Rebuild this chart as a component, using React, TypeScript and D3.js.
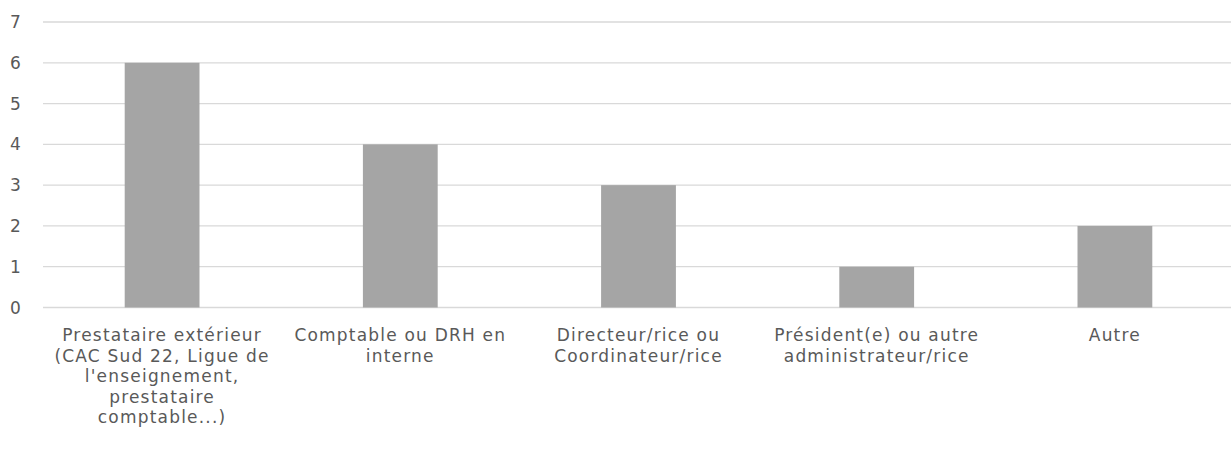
import React from "react";
import * as d3 from "d3";

const categories: string[][] = [
  ["Prestataire extérieur", "(CAC Sud 22, Ligue de", "l'enseignement,", "prestataire", "comptable...)"],
  ["Comptable ou DRH en", "interne"],
  ["Directeur/rice ou", "Coordinateur/rice"],
  ["Président(e) ou autre", "administrateur/rice"],
  ["Autre"],
];
const values: number[] = [6, 4, 3, 1, 2];
const yTicks: number[] = [0, 1, 2, 3, 4, 5, 6, 7];

const W = 1231;
const H = 452;
const left = 43;
const right = 1234;
const top = 22;
const bottom = 307.5;
const font = "'DejaVu Sans', sans-serif";

export default function App() {
  const x = d3
    .scaleBand<number>()
    .domain(values.map((_, i) => i))
    .range([left, right])
    .paddingInner(0.686)
    .paddingOuter(0.343);
  const y = d3.scaleLinear().domain([0, 7]).range([bottom, top]);
  const band = (right - left) / values.length;

  return (
    <svg
      width={W}
      height={H}
      style={{ position: "absolute", left: 0, top: 0, background: "#fff" }}
    >
      {yTicks.map((t) => (
        <g key={t}>
          <line x1={left} x2={W} y1={y(t)} y2={y(t)} stroke="#d9d9d9" strokeWidth={1.3} />
          <text
            x={15.5}
            y={y(t)}
            dy="0.36em"
            textAnchor="middle"
            fontFamily={font}
            fontSize={17}
            fill="#595959"
          >
            {t}
          </text>
        </g>
      ))}
      {values.map((v, i) => (
        <rect
          key={i}
          x={x(i)}
          y={y(v)}
          width={x.bandwidth()}
          height={y(0) - y(v)}
          fill="#a5a5a5"
        />
      ))}
      {categories.map((lines, i) => {
        const cx = left + band * (i + 0.5);
        return (
          <text
            key={i}
            textAnchor="middle"
            fontFamily={font}
            fontSize={17}
            letterSpacing={1.2}
            fill="#595959"
          >
            {lines.map((l, j) => (
              <tspan key={j} x={cx} y={341 + j * 20.5}>
                {l}
              </tspan>
            ))}
          </text>
        );
      })}
    </svg>
  );
}
